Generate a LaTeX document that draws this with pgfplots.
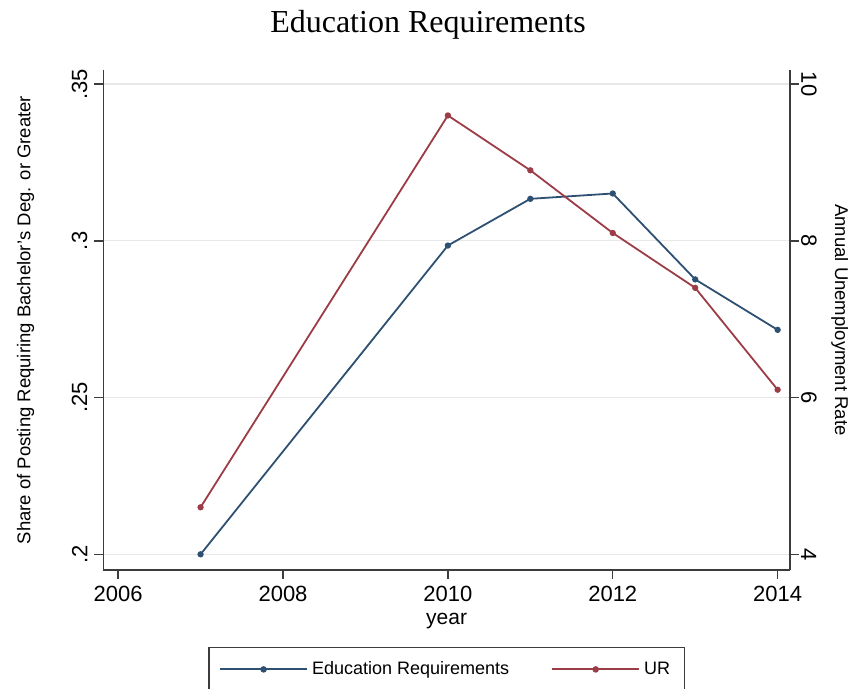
\documentclass[border=0pt]{standalone}
\usepackage{pgfplots}
\pgfplotsset{compat=1.18}
\usepackage{fontspec}
\setmainfont{Liberation Sans}
\newfontfamily\titlefont{Liberation Serif}

\definecolor{edublue}{RGB}{45,80,115}
\definecolor{urred}{RGB}{155,60,70}
\definecolor{axisgray}{RGB}{60,60,60}

% Share of postings requiring a bachelor's degree or greater
\pgfplotstableread{
year share
2007 0.2000
2010 0.2985
2011 0.3134
2012 0.3151
2013 0.2877
2014 0.2716
}\edudata

% Annual unemployment rate
\pgfplotstableread{
year ur
2007 4.6
2010 9.6
2011 8.9
2012 8.1
2013 7.4
2014 6.1
}\urdata

\pgfplotsset{
  stata/.style={
    width=343.35pt, height=250pt, scale only axis,
    at={(51.65pt,59.5pt)}, anchor=south west,
    xmin=2005.82, xmax=2014.15,
    tick align=outside, major tick length=4.5pt,
    every tick/.style={axisgray, line width=0.7pt},
    axis line style={axisgray, line width=0.7pt},
    tick label style={font=\fontsize{11}{13}\selectfont},
  },
  edustyle/.style={edublue, line width=0.9pt, mark=*, mark size=1.1pt},
  urstyle/.style={urred, line width=0.9pt, mark=*, mark size=1.1pt},
}

\begin{document}
\begin{tikzpicture}
\path[use as bounding box] (0,0) rectangle (424pt,344.5pt);

\node[anchor=base, font=\titlefont\fontsize{16}{19}\selectfont] at (214pt,328.15pt) {Education Requirements};

\begin{axis}[stata,
  axis x line*=bottom, axis y line*=left,
  ymin=0.195, ymax=0.3545,
  xtick={2006,2008,2010,2012,2014},
  xticklabels={2006,2008,2010,2012,2014},
  ytick={0.2,0.25,0.3,0.35},
  yticklabels={.2,.25,.3,.35},
  yticklabel style={rotate=90, anchor=south},
  ymajorgrids, grid style={black!9, line width=0.6pt},
  xlabel={year},
  xlabel style={at={(axis description cs:0.5,-0.103)}, anchor=center, font=\fontsize{10.5}{12}\selectfont},
  ylabel={Share of Posting Requiring Bachelor's Deg. or Greater},
  ylabel style={at={(axis description cs:-0.113,0.5)}, anchor=center, font=\fontsize{9.25}{11}\selectfont},
  legend columns=2,
  legend style={at={(axis description cs:0.5,-0.1534)}, anchor=north,
    draw=axisgray, line width=0.7pt, font=\fontsize{9}{11}\selectfont,
    inner xsep=5pt, inner ysep=5pt,
    /tikz/every even column/.append style={column sep=19pt}},
  legend image code/.code={\draw[mark repeat=2,mark phase=2,#1,line width=1pt] plot coordinates {(0pt,0pt) (21.75pt,0pt) (43.5pt,0pt)};},
]
\addplot[edustyle] table[x=year, y=share] {\edudata};
\addlegendentry{Education Requirements}
\addlegendimage{urstyle}
\addlegendentry{UR}
\end{axis}

\begin{axis}[stata,
  axis x line=none, axis y line*=right,
  ymin=3.8, ymax=10.18,
  ytick={4,6,8,10},
  yticklabels={4,6,8,10},
  yticklabel style={rotate=-90, anchor=south},
  yticklabel shift=-2.5pt,
  ylabel={Annual Unemployment Rate},
  ylabel style={at={(axis description cs:1.0728,0.5)}, anchor=center, rotate=180, font=\fontsize{9.25}{11}\selectfont},
]
\addplot[urstyle] table[x=year, y=ur] {\urdata};
\end{axis}
\end{tikzpicture}
\end{document}
